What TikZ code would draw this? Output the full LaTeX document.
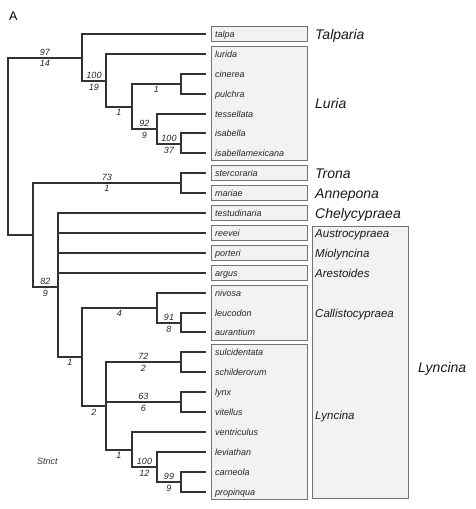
\documentclass[tikz,border=0pt]{standalone}
\usepackage{fontspec}
\setmainfont{Liberation Sans}
\begin{document}
\begin{tikzpicture}[x=1pt,y=-1pt,
  br/.style={draw=black!80,line width=1.5pt},
  boxst/.style={draw=black!55,fill=boxfill,line width=0.9pt},
  leaf/.style={anchor=base west,inner sep=0pt,font=\fontsize{9}{10}\selectfont\itshape,text=black!85},
  bs/.style={inner sep=2pt,font=\fontsize{9}{10}\selectfont\itshape,text=black!85},
  grp/.style={anchor=base west,inner sep=0pt,font=\fontsize{14}{16}\selectfont\itshape,text=black!90},
  sgrp/.style={anchor=base west,inner sep=0pt,font=\fontsize{11.5}{13}\selectfont\itshape,text=black!90}]
\definecolor{boxfill}{HTML}{F0F2F4}
\useasboundingbox (0,0) rectangle (475,509);
\node[anchor=west,inner sep=0pt,font=\fontsize{12.5}{14}\selectfont] (lblA) at (9,16) {A};
% boxes
\foreach \a/\b in {0/0,1/6,7/7,8/8,9/9,10/10,11/11,12/12,13/15,16/23}
  \draw[boxst] (211,{34+19.9*\a-7.5}) rectangle (307,{34+19.9*\b+7.5});
\draw[boxst] (312,226) rectangle (408,498);
% leaves
\foreach \n [count=\i from 0] in {talpa,lurida,cinerea,pulchra,tessellata,isabella,isabellamexicana,stercoraria,mariae,testudinaria,reevei,porteri,argus,nivosa,leucodon,aurantium,sulcidentata,schilderorum,lynx,vitellus,ventriculus,leviathan,carneola,propinqua}{
  \pgfmathsetmacro\yy{round(34+19.9*\i)}
  \coordinate (t\i) at (206,\yy);
  \node[leaf] (n\i) at (215,\yy+3.2) {\n};
}
% internal nodes
\coordinate (root) at (8,147);
\coordinate (A) at (82,58);
\coordinate (B) at (106,81);
\coordinate (C) at (132,107);
\coordinate (D) at (181,84);
\coordinate (E) at (157,129);
\coordinate (F) at (181,144);
\coordinate (G) at (33,235);
\coordinate (H) at (181,183);
\coordinate (I) at (58,287);
\coordinate (J) at (82,357);
\coordinate (K) at (157,308);
\coordinate (L) at (181,323);
\coordinate (M) at (106,406);
\coordinate (N) at (181,362);
\coordinate (O) at (181,402);
\coordinate (P) at (132,450);
\coordinate (Q) at (157,467);
\coordinate (R) at (181,482);
% branches
\draw[br] (root) |- node[bs,pos=0.75,above]{97} node[bs,pos=0.75,below]{14} (A);
\draw[br] (root) |- (G);
\draw[br] (A) |- (t0);
\draw[br] (A) |- node[bs,pos=0.75,above]{100} node[bs,pos=0.75,below]{19} (B);
\draw[br] (B) |- (t1);
\draw[br] (B) |- node[bs,pos=0.75,below]{1} (C);
\draw[br] (C) |- node[bs,pos=0.75,below]{1} (D);
\draw[br] (D) |- (t2);
\draw[br] (D) |- (t3);
\draw[br] (C) |- node[bs,pos=0.75,above]{92} node[bs,pos=0.75,below]{9} (E);
\draw[br] (E) |- (t4);
\draw[br] (E) |- node[bs,pos=0.75,above]{100} node[bs,pos=0.75,below]{37} (F);
\draw[br] (F) |- (t5);
\draw[br] (F) |- (t6);
\draw[br] (G) |- node[bs,pos=0.75,above]{73} node[bs,pos=0.75,below]{1} (H);
\draw[br] (H) |- (t7);
\draw[br] (H) |- (t8);
\draw[br] (G) |- node[bs,pos=0.75,above]{82} node[bs,pos=0.75,below]{9} (I);
\draw[br] (I) |- (t9);
\draw[br] (I) |- (t10);
\draw[br] (I) |- (t11);
\draw[br] (I) |- (t12);
\draw[br] (I) |- node[bs,pos=0.75,below]{1} (J);
\draw[br] (J) |- node[bs,pos=0.75,below]{4} (K);
\draw[br] (K) |- (t13);
\draw[br] (K) |- node[bs,pos=0.75,above]{91} node[bs,pos=0.75,below]{8} (L);
\draw[br] (L) |- (t14);
\draw[br] (L) |- (t15);
\draw[br] (J) |- node[bs,pos=0.75,below]{2} (M);
\draw[br] (M) |- node[bs,pos=0.75,above]{72} node[bs,pos=0.75,below]{2} (N);
\draw[br] (N) |- (t16);
\draw[br] (N) |- (t17);
\draw[br] (M) |- node[bs,pos=0.75,above]{63} node[bs,pos=0.75,below]{6} (O);
\draw[br] (O) |- (t18);
\draw[br] (O) |- (t19);
\draw[br] (M) |- node[bs,pos=0.75,below]{1} (P);
\draw[br] (P) |- (t20);
\draw[br] (P) |- node[bs,pos=0.75,above]{100} node[bs,pos=0.75,below]{12} (Q);
\draw[br] (Q) |- (t21);
\draw[br] (Q) |- node[bs,pos=0.75,above]{99} node[bs,pos=0.75,below]{9} (R);
\draw[br] (R) |- (t22);
\draw[br] (R) |- (t23);
% group labels
\node[grp] (gTal) at (315,39.5) {Talparia};
\node[grp] (gLur) at (315,108.5) {Luria};
\node[grp] (gTro) at (315,178) {Trona};
\node[grp] (gAnn) at (315,198) {Annepona};
\node[grp] (gChe) at (315,218) {Chelycypraea};
\node[sgrp] (gAus) at (315,237.5) {Austrocypraea};
\node[sgrp] (gMio) at (315,257.5) {Miolyncina};
\node[sgrp] (gAre) at (315,277.5) {Arestoides};
\node[sgrp] (gCal) at (315,317.5) {Callistocypraea};
\node[sgrp] (gLyn) at (315,419.5) {Lyncina};
\node[grp] (gLynO) at (418,372) {Lyncina};
\node[anchor=west,inner sep=0pt,font=\fontsize{9}{10}\selectfont\itshape,text=black!80] (strict) at (37,461) {Strict};
\end{tikzpicture}
\end{document}
